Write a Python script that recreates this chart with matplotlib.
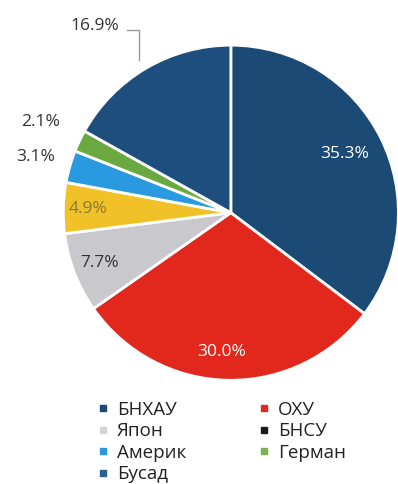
import numpy as np
import matplotlib
matplotlib.use("Agg")
import matplotlib.pyplot as plt
from matplotlib.lines import Line2D

plt.rcParams["font.family"] = ["Open Sans", "DejaVu Sans"]

# ------------------------------------------------------------------
# Data
# ------------------------------------------------------------------
countries = ["БНХАУ", "ОХУ", "Япон", "БНСУ", "Америк", "Герман", "Бусад"]
shares    = [35.3, 30.0, 7.7, 4.9, 3.1, 2.1, 16.9]
colors    = ["#1b4a74", "#e2281c", "#c9c9cd", "#f0c228", "#2a9ae0", "#6aa93f", "#1d4e7d"]
legend_colors = ["#1b4a74", "#e2281c", "#d4d4d8", "#1a1a1a", "#2a9ae0", "#7ab04e", "#2d5f90"]
label_colors  = ["white", "white", "#333333", "#8a7a3a", "#333333", "#333333", "#333333"]

# ------------------------------------------------------------------
# Plot
# ------------------------------------------------------------------
fig = plt.figure(figsize=(3.98, 4.84), dpi=100)
ax = fig.add_axes([0.159, 0.213, 0.842, 0.695])

wedges, _ = ax.pie(shares, colors=colors, startangle=90, counterclock=False,
                   wedgeprops=dict(edgecolor="white", linewidth=2))
ax.set_aspect("equal")
ax.set_xlim(-1, 1)
ax.set_ylim(-1, 1)

# radial distance and sideways nudge of each percentage label
label_r  = [0.79, 0.83, 0.84, 0.85, 1.21, 1.26, 1.29]
label_dx = [-0.03, -0.04, 0.0, 0.0, 0.0, 0.0, -0.16]
for w, val, r, dx, c in zip(wedges, shares, label_r, label_dx, label_colors):
    mid = np.deg2rad((w.theta1 + w.theta2) / 2)
    x, y = r * np.cos(mid) + dx, r * np.sin(mid)
    ax.text(x, y, f"{val:.1f}%", ha="center", va="center",
            fontsize=12.5, color=c, clip_on=False)

# leader line for the last slice label
mid = np.deg2rad((wedges[-1].theta1 + wedges[-1].theta2) / 2)
ey = np.sin(mid)
ax.plot([-0.62, -0.55, -0.55], [1.09, 1.09, ey + 0.05],
        color="#9a9a9a", linewidth=1, clip_on=False)

# legend, filled column by column
order = [0, 2, 4, 6, 1, 3, 5]
handles = [Line2D([], [], marker="s", linestyle="none", markersize=4.5,
                  color=legend_colors[i]) for i in order]
labels = [countries[i] for i in order]
fig.legend(handles, labels, ncol=2, loc="upper left",
           bbox_to_anchor=(0.225, 0.188), frameon=False, fontsize=13.5,
           handlelength=0.6, handletextpad=0.45, columnspacing=3.85,
           labelspacing=0.19, labelcolor="#222222", borderaxespad=0)

fig.savefig("out.png", dpi=100)
